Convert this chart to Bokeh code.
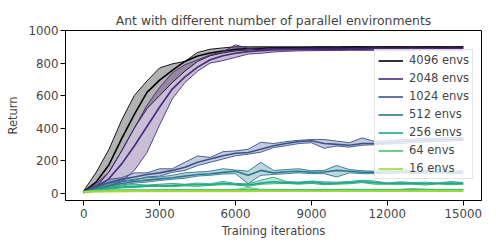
from bokeh.plotting import figure
from bokeh.models import Range1d, FixedTicker, Legend, LegendItem
from bokeh.embed import file_html
from bokeh.resources import INLINE

iterations = [0, 500, 1000, 1500, 2000, 2500, 3000, 3500, 4000, 4500, 5000,
              5500, 6000, 6500, 7000, 7500, 8000, 8500, 9000, 9500, 10000,
              10500, 11000, 11500, 12000, 12500, 13000, 13500, 14000, 14500, 15000]

env_labels = ["4096 envs", "2048 envs", "1024 envs", "512 envs", "256 envs", "64 envs", "16 envs"]
env_colors = ["#000000", "#482878", "#3b528b", "#2a788e", "#22a884", "#4ac16d", "#a0da39"]

mean_4096 = [10, 70, 175, 335, 485, 620, 695, 755, 810, 843, 862, 874, 884, 889, 891, 893, 894, 894, 895, 895, 895, 896, 896, 896, 896, 897, 897, 897, 897, 897, 897]
hi_4096 = [15, 130, 270, 450, 600, 690, 770, 795, 810, 865, 885, 893, 900, 900, 900, 900, 900, 900, 900, 901, 900, 901, 901, 900, 901, 901, 900, 901, 901, 900, 901]
lo_4096 = [5, 40, 130, 260, 400, 520, 600, 680, 750, 810, 845, 862, 874, 880, 884, 886, 887, 888, 888, 889, 889, 890, 890, 891, 891, 891, 892, 892, 892, 892, 892]

mean_2048 = [5, 35, 90, 180, 290, 410, 530, 640, 715, 775, 820, 845, 860, 870, 876, 880, 882, 883, 884, 884, 885, 885, 885, 886, 886, 886, 886, 886, 887, 887, 887]
hi_2048 = [8, 60, 130, 260, 400, 540, 650, 740, 790, 820, 850, 870, 912, 890, 885, 892, 892, 892, 893, 893, 893, 893, 893, 894, 894, 894, 894, 894, 894, 894, 894]
lo_2048 = [3, 20, 45, 70, 140, 250, 420, 580, 680, 750, 800, 815, 835, 855, 860, 868, 872, 875, 876, 877, 877, 878, 878, 878, 879, 879, 879, 879, 880, 880, 880]

mean_1024 = [5, 40, 65, 85, 100, 115, 125, 140, 160, 190, 210, 230, 245, 250, 270, 292, 305, 318, 322, 305, 300, 295, 305, 305, 310, 318, 322, 325, 328, 330, 332]
hi_1024 = [7, 50, 85, 95, 125, 125, 150, 150, 190, 229, 220, 255, 260, 270, 313, 305, 317, 325, 330, 330, 320, 310, 340, 318, 322, 330, 332, 337, 338, 342, 340]
lo_1024 = [3, 25, 45, 70, 80, 100, 105, 128, 140, 170, 190, 210, 230, 240, 252, 280, 292, 305, 310, 276, 290, 283, 295, 298, 302, 305, 312, 315, 318, 320, 325]

mean_512 = [5, 25, 45, 60, 72, 80, 88, 95, 105, 115, 119, 128, 135, 110, 140, 125, 132, 135, 129, 130, 140, 135, 129, 128, 130, 135, 128, 130, 132, 128, 130]
hi_512 = [7, 35, 60, 75, 85, 95, 100, 110, 125, 130, 135, 150, 142, 135, 190, 140, 145, 150, 138, 140, 170, 145, 138, 135, 140, 150, 135, 140, 145, 135, 138]
lo_512 = [3, 15, 35, 50, 62, 68, 78, 85, 92, 105, 110, 118, 120, 58, 110, 115, 120, 125, 120, 120, 100, 125, 120, 120, 122, 125, 120, 122, 125, 120, 122]

mean_256 = [5, 20, 30, 38, 42, 45, 47, 48, 50, 52, 52, 60, 55, 50, 62, 70, 65, 62, 68, 60, 62, 65, 72, 65, 60, 62, 60, 58, 60, 62, 60]
hi_256 = [7, 25, 38, 45, 55, 50, 55, 60, 55, 62, 58, 72, 60, 58, 80, 98, 72, 68, 75, 70, 68, 72, 80, 75, 62, 70, 65, 68, 62, 72, 65]
lo_256 = [3, 15, 25, 32, 35, 40, 42, 40, 45, 42, 48, 52, 50, 42, 55, 58, 60, 55, 60, 52, 55, 58, 65, 55, 55, 55, 55, 50, 57, 52, 55]

mean_64 = [10, 15, 17, 18, 18, 18, 19, 19, 19, 19, 20, 20, 20, 22, 20, 20, 20, 20, 20, 20, 21, 21, 21, 21, 21, 21, 22, 22, 21, 21, 21]
hi_64 = [12, 18, 20, 20, 21, 20, 22, 21, 22, 21, 22, 22, 23, 35, 24, 22, 22, 23, 22, 24, 23, 25, 23, 24, 23, 24, 28, 24, 23, 24, 23]
lo_64 = [8, 12, 14, 15, 15, 16, 16, 17, 17, 17, 18, 18, 17, 10, 17, 18, 18, 18, 18, 18, 19, 19, 19, 19, 19, 19, 15, 20, 19, 19, 19]

mean_16 = [8, 10, 11, 11, 12, 12, 12, 12, 12, 12, 12, 12, 12, 12, 12, 12, 12, 12, 12, 12, 12, 12, 12, 12, 12, 12, 12, 12, 12, 12, 12]
hi_16 = [10, 14, 15, 16, 16, 16, 16, 16, 16, 16, 16, 16, 16, 16, 15, 13, 13, 13, 13, 13, 13, 13, 13, 13, 13, 13, 13, 13, 13, 13, 13]
lo_16 = [6, 7, 8, 9, 9, 9, 9, 9, 9, 9, 9, 9, 9, 9, 10, 11, 11, 11, 11, 11, 11, 11, 11, 11, 11, 11, 11, 11, 11, 11, 11]

x_ticks = [0, 3000, 6000, 9000, 12000, 15000]
y_ticks = [0, 200, 400, 600, 800, 1000]

series = [
    (mean_4096, lo_4096, hi_4096),
    (mean_2048, lo_2048, hi_2048),
    (mean_1024, lo_1024, hi_1024),
    (mean_512, lo_512, hi_512),
    (mean_256, lo_256, hi_256),
    (mean_64, lo_64, hi_64),
    (mean_16, lo_16, hi_16),
]

FONT = "DejaVu Sans"

p = figure(frame_width=416, frame_height=170, output_backend="svg", toolbar_location=None,
           x_range=Range1d(-720, 15720), y_range=Range1d(-45, 1000),
           title="Ant with different number of parallel environments",
           min_border_left=65, min_border_right=6, min_border_top=30, min_border_bottom=40)

p.title.text_font = FONT
p.title.text_font_size = "12.4px"
p.title.text_font_style = "normal"
p.title.align = "center"
p.title.standoff = 6

for ax in (p.xaxis, p.yaxis):
    ax.major_label_text_font = FONT
    ax.major_label_text_font_size = "11.8px"
    ax.axis_label_text_font = FONT
    ax.axis_label_text_font_size = "11.5px"
    ax.axis_label_text_font_style = "normal"
    ax.axis_line_color = "black"
    ax.major_tick_line_color = "black"
    ax.minor_tick_line_color = None
    ax.major_tick_out = 5
    ax.major_tick_in = 0

p.xaxis.ticker = FixedTicker(ticks=x_ticks)
p.yaxis.ticker = FixedTicker(ticks=y_ticks)
p.xaxis.axis_label = "Training iterations"
p.yaxis.axis_label = "Return"
p.xaxis.major_label_standoff = 3
p.yaxis.major_label_standoff = 2
p.xaxis.axis_label_standoff = 3
p.yaxis.axis_label_standoff = 5
p.grid.visible = False
p.outline_line_color = "black"
p.outline_line_alpha = 1
p.outline_line_width = 1

items = []
for (mean, lo, hi), color, label in zip(series, env_colors, env_labels):
    p.varea(x=iterations, y1=lo, y2=hi, fill_color=color, fill_alpha=0.3)
    p.line(iterations, lo, line_color=color, line_width=1, line_alpha=0.9)
    p.line(iterations, hi, line_color=color, line_width=1, line_alpha=0.9)
    r = p.line(iterations, mean, line_color=color, line_width=1.6)
    items.append(LegendItem(label=label, renderers=[r]))

legend = Legend(items=items, location=(309, 21))
legend.label_text_font = FONT
legend.label_text_font_size = "11.5px"
legend.glyph_width = 25
legend.glyph_height = 13
legend.label_height = 13
legend.label_standoff = 6
legend.spacing = 4
legend.padding = 3
legend.margin = 0
legend.border_line_color = "#cccccc"
legend.border_line_width = 1
legend.background_fill_alpha = 0.8
p.add_layout(legend, "center")

open("out.html", "w").write(file_html(p, INLINE))
